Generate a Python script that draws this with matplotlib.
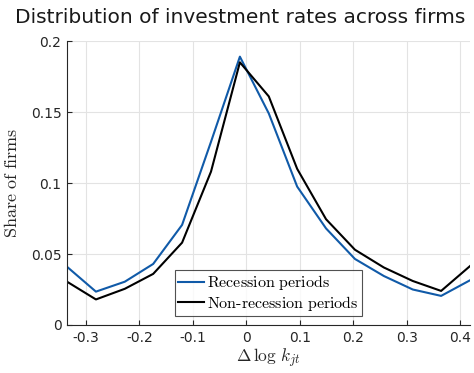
import numpy as np
import matplotlib
matplotlib.use("Agg")
import matplotlib.pyplot as plt

plt.rcParams["mathtext.fontset"] = "cm"

# Bin centres of the investment-rate distribution (Delta log k)
bin_centers = [-0.335, -0.281, -0.227, -0.174, -0.120, -0.066, -0.012, 0.042,
               0.095, 0.149, 0.203, 0.257, 0.311, 0.364, 0.418]

# Share of firms in each bin
recession = [0.041, 0.0235, 0.0305, 0.043, 0.0705, 0.129, 0.189, 0.149,
             0.0975, 0.068, 0.0465, 0.0345, 0.025, 0.0205, 0.0315]
non_recession = [0.0305, 0.018, 0.0255, 0.036, 0.058, 0.108, 0.185, 0.161,
                 0.110, 0.0745, 0.053, 0.0405, 0.031, 0.024, 0.0415]

series_labels = ["Recession periods", "Non-recession periods"]
x_ticks = [-0.3, -0.2, -0.1, 0, 0.1, 0.2, 0.3, 0.4]
x_tick_labels = ["-0.3", "-0.2", "-0.1", "0", "0.1", "0.2", "0.3", "0.4"]
y_ticks = [0, 0.05, 0.1, 0.15, 0.2]
y_tick_labels = ["0", "0.05", "0.1", "0.15", "0.2"]

fig = plt.figure(figsize=(4.74, 3.73), dpi=100)
ax = fig.add_axes([0.1414, 0.1287, 0.8502, 0.7613])

sans = "DejaVu Sans"

def as_math_text(s):
    return r"$\mathrm{" + s.replace(" ", r"\ ").replace("-", r"\text{-}") + "}$"

ax.plot(bin_centers, recession, color="#105aa8", lw=1.5, label=as_math_text(series_labels[0]))
ax.plot(bin_centers, non_recession, color="black", lw=1.5, label=as_math_text(series_labels[1]))

ax.set_xlim(-0.335, 0.418)
ax.set_ylim(0, 0.2)
ax.set_xticks(x_ticks)
ax.set_xticklabels(x_tick_labels, fontfamily=sans, fontsize=10)
ax.set_yticks(y_ticks)
ax.set_yticklabels(y_tick_labels, fontfamily=sans, fontsize=10)

ax.grid(True, color="#e3e3e3", lw=0.8)
ax.set_axisbelow(True)
for side in ("top", "right"):
    ax.spines[side].set_visible(False)
for side in ("left", "bottom"):
    ax.spines[side].set_color("#262626")
    ax.spines[side].set_linewidth(0.8)
ax.tick_params(direction="in", length=3.5, width=0.8, color="#262626",
               labelcolor="#262626", pad=4)

fig.text(0.506, 1 - 22.7 / 373, "Distribution of investment rates across firms",
         fontfamily=sans, fontsize=14.5, color="#1a1a1a", ha="center", va="baseline")
ax.set_xlabel(r"$\Delta\,\log\,k_{jt}$", fontsize=12.5, color="#262626", labelpad=2)
ax.set_ylabel(r"$\mathrm{Share\ of\ firms}$", fontsize=13, color="#262626", labelpad=7)

leg = ax.legend(loc="lower center", bbox_to_anchor=(0.5, 0.02), fontsize=11.5,
                frameon=True, fancybox=False, edgecolor="#262626",
                handlelength=1.6, handletextpad=0.2, borderpad=0.2,
                labelspacing=0.1, borderaxespad=0.2)
leg.get_frame().set_linewidth(0.8)

fig.savefig("out.png", dpi=100)
